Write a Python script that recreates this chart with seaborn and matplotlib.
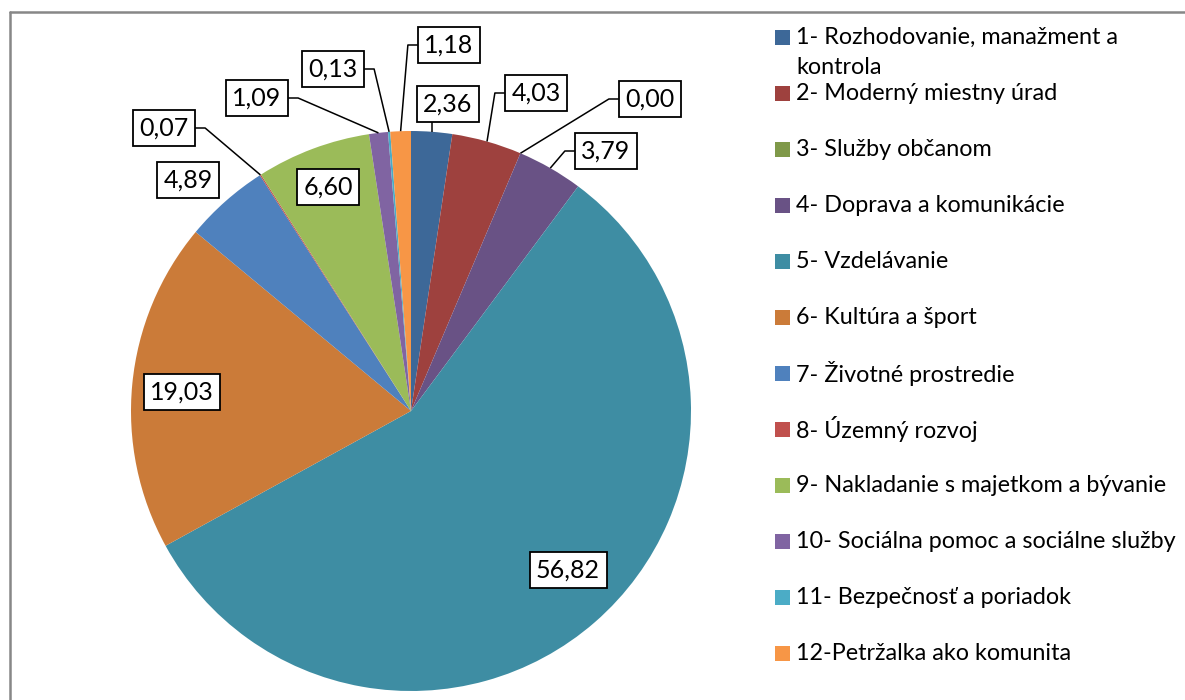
import numpy as np
import matplotlib
matplotlib.use("Agg")
import matplotlib.pyplot as plt
import seaborn as sns
from matplotlib.lines import Line2D
from matplotlib.patches import Rectangle

# data
categories = [
    "1- Rozhodovanie, manažment a\nkontrola",
    "2- Moderný miestny úrad",
    "3- Služby občanom",
    "4- Doprava a komunikácie",
    "5- Vzdelávanie",
    "6- Kultúra a šport",
    "7- Životné prostredie",
    "8- Územný rozvoj",
    "9- Nakladanie s majetkom a bývanie",
    "10- Sociálna pomoc a sociálne služby",
    "11- Bezpečnosť a poriadok",
    "12-Petržalka ako komunita",
]
shares = [2.36, 4.03, 0.00, 3.79, 56.82, 19.03, 4.89, 0.07, 6.60, 1.09, 0.13, 1.18]
colors_hex = ["#3D6898", "#9E413E", "#7F9949", "#695285", "#3E8DA3", "#CB7B39",
              "#4F81BD", "#C0504D", "#9BBB59", "#8064A2", "#4BACC6", "#F79646"]

# label box layout (pixels, origin top-left) and whether a leader line is drawn
label_xy = [(448, 104), (536, 93), (650, 99), (606, 151), (568, 570), (182, 392),
            (188, 180), (164, 128), (328, 187), (257, 98), (333, 69), (449, 45)]
has_leader = [True, True, True, True, False, False, False, True, False, True, True, True]

sns.set_theme(style="white")
plt.rcParams['font.family'] = ['Lato', 'DejaVu Sans']

W, H = 1185, 700
fig = plt.figure(figsize=(W / 100, H / 100), dpi=100)
ax = fig.add_axes([0, 0, 1, 1])
palette = sns.color_palette(colors_hex)

cx, cy, R = 411, 411, 280
wedges, _ = ax.pie(shares, colors=palette, startangle=90, counterclock=False,
                   center=(cx, H - cy), radius=R, wedgeprops=dict(linewidth=0))
ax.set_xlim(0, W)
ax.set_ylim(0, H)
ax.axis('off')

# data labels
texts = []
for v, (lx, ly) in zip(shares, label_xy):
    t = ax.text(lx, H - ly, f"{v:.2f}".replace('.', ','), ha='center', va='center',
                fontsize=18, color='black', zorder=5,
                bbox=dict(boxstyle='square,pad=0.26', fc='white', ec='black', lw=1.3))
    texts.append(t)

# leader lines from the box to the middle of the slice's rim
fig.canvas.draw()
rend = fig.canvas.get_renderer()
for w, t, lead in zip(wedges, texts, has_leader):
    if not lead:
        continue
    ang = np.deg2rad((w.theta1 + w.theta2) / 2)
    px = cx + R * np.cos(ang)
    py = (H - cy) + R * np.sin(ang)
    bb = t.get_bbox_patch().get_window_extent(rend)
    ymid = (bb.y0 + bb.y1) / 2
    if px < bb.x0:
        xs, ys = [bb.x0, bb.x0 - 10, px], [ymid, ymid, py]
    elif px > bb.x1:
        xs, ys = [bb.x1, bb.x1 + 10, px], [ymid, ymid, py]
    else:
        xs, ys = [px, px], [bb.y0, py]
    ax.plot(xs, ys, color='black', lw=1.1, zorder=4, solid_capstyle='butt')

# legend
for i, (name, col) in enumerate(zip(categories, palette)):
    y = 37 + 56 * i
    ax.add_patch(Rectangle((775, H - y - 7.5), 15, 15, facecolor=col, edgecolor='none'))
    for j, line in enumerate(name.split('\n')):
        ax.text(796, H - y - 30 * j, line, ha='left', va='center', fontsize=16.8, color='black')

# chart-area border (only left and top are visible)
fig.add_artist(Line2D([10 / W, 10 / W], [0, 1 - 12 / H], transform=fig.transFigure,
                      color='#878787', lw=1.8))
fig.add_artist(Line2D([10 / W, 1], [1 - 12 / H, 1 - 12 / H], transform=fig.transFigure,
                      color='#878787', lw=1.8))

fig.savefig("out.png", dpi=100)
